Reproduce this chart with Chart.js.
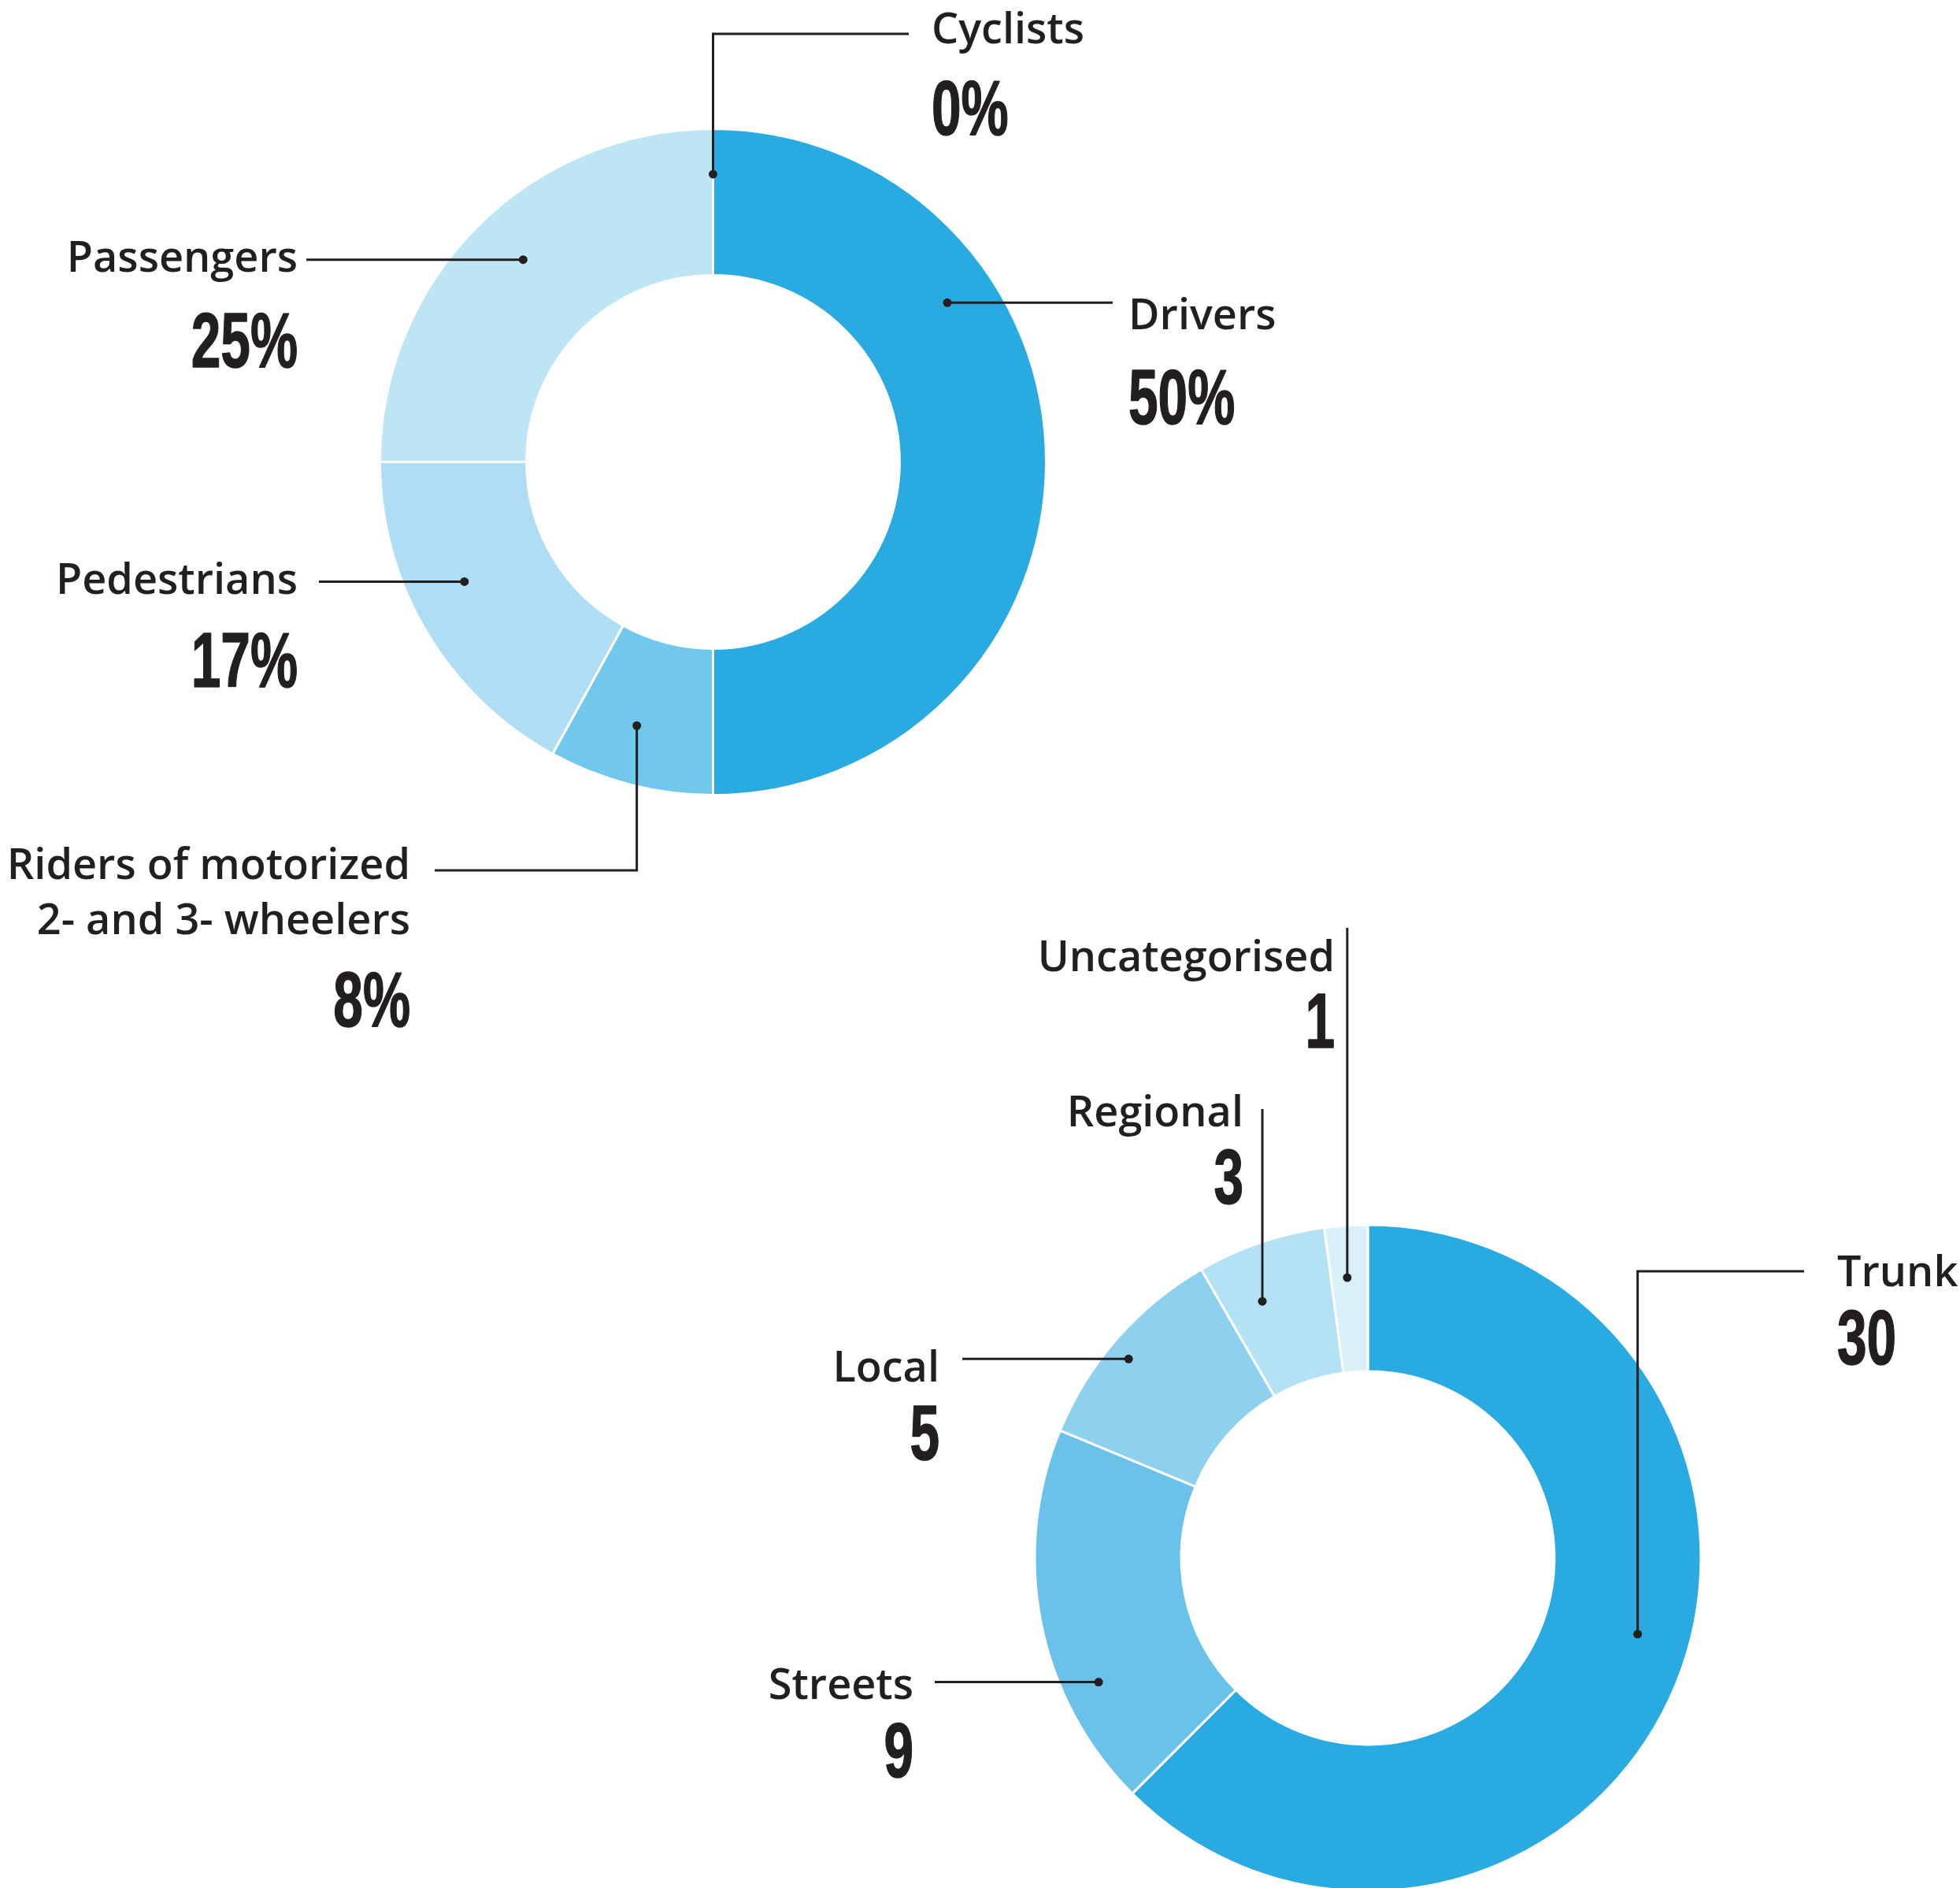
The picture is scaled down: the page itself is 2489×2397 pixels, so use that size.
<!DOCTYPE html>
<html>
<head>
<meta charset="utf-8">
<title>Road deaths</title>
<script src="https://cdn.jsdelivr.net/npm/chart.js@4/dist/chart.umd.min.js"></script>
<style>
  html, body { margin: 0; padding: 0; background: #fff; }
  body { width: 2489px; height: 2397px; position: relative; overflow: hidden; }
  canvas { position: absolute; left: 0; top: 0; }
</style>
</head>
<body>
<canvas id="usersChart" width="2489" height="2397"></canvas>
<canvas id="roadsChart" width="2489" height="2397"></canvas>
<script>
// Share of deaths by road user (%)
const userLabels = ['Drivers', ['Riders of motorized', '2- and 3- wheelers'], 'Pedestrians', 'Passengers', 'Cyclists'];
const userValues = [50, 8, 17, 25, 0];

// Deaths by road type
const roadLabels = ['Trunk', 'Streets', 'Local', 'Regional', 'Uncategorised'];
const roadValues = [30, 9, 5, 3, 1];

const userColors = ['#29abe2', '#72c7ec', '#afdef4', '#bde5f3', '#daf0f9'];
const roadColors = ['#29abe2', '#6ac2ea', '#8dd1ee', '#b5e1f4', '#daf0f9'];

const INK = '#231f20';
const LABEL_FONT = '600 54px "Open Sans", "Noto Sans", sans-serif';
const NUM_FONT = 'bold 98px "Liberation Sans", Arial, sans-serif';
const NUM_SQUEEZE = 0.69;
const LINE_GAP = 70;

// Callouts: dot sits at `at` (fraction along the slice) and `depth` (fraction across the ring),
// the leader then walks the path ('x' = go horizontally to, 'y' = go vertically to).
const userCallouts = [
  { at: 0.31, depth: 0.66, path: ['x', 1413], align: 'left', x: 1433, y: 418, numY: 538 },
  { at: 0.56, depth: 0.60, path: ['y', 1105, 'x', 552], align: 'right', x: 521, y: 1116, numY: 1303 },
  { at: 0.58, depth: 0.61, path: ['x', 405], align: 'right', x: 378, y: 754, numY: 872 },
  { at: 0.52, depth: 0.62, path: ['x', 389], align: 'right', x: 378, y: 345, numY: 466 },
  { at: 0.5, depth: 0.69, path: ['y', 43, 'x', 1154], align: 'left', x: 1183, y: 55, numY: 171 }
];

const roadCallouts = [
  { at: 0.47, depth: 0.64, path: ['y', 1614, 'x', 2291], align: 'left', x: 2333, y: 1633, numY: 1732 },
  { at: 0.30, depth: 0.75, path: ['x', 1187], align: 'right', x: 1160, y: 2157, numY: 2256 },
  { at: 0.46, depth: 0.85, path: ['x', 1222], align: 'right', x: 1193, y: 1754, numY: 1853 },
  { at: 0.34, depth: 0.62, path: ['y', 1408], align: 'right', x: 1579, y: 1430, numY: 1528 },
  { at: 0.44, depth: 0.645, path: ['y', 1178], align: 'right', x: 1695, y: 1233, numY: 1330 }
];

// draws leader lines, dots, names and values for each slice
const calloutPlugin = {
  id: 'callouts',
  afterDraw(chart, args, opts) {
    const ctx = chart.ctx;
    const meta = chart.getDatasetMeta(0);
    const values = chart.data.datasets[0].data;

    opts.items.forEach((c, i) => {
      const arc = meta.data[i];
      const ang = arc.startAngle + c.at * (arc.endAngle - arc.startAngle);
      const r = arc.innerRadius + c.depth * (arc.outerRadius - arc.innerRadius);
      const dx = arc.x + Math.cos(ang) * r;
      const dy = arc.y + Math.sin(ang) * r;

      ctx.save();
      ctx.strokeStyle = INK;
      ctx.fillStyle = INK;
      ctx.lineWidth = 3;
      ctx.beginPath();
      ctx.moveTo(dx, dy);
      let px = dx, py = dy;
      for (let k = 0; k < c.path.length; k += 2) {
        if (c.path[k] === 'x') px = c.path[k + 1];
        else py = c.path[k + 1];
        ctx.lineTo(px, py);
      }
      ctx.stroke();

      ctx.beginPath();
      ctx.arc(dx, dy, 5.5, 0, Math.PI * 2);
      ctx.fill();

      // name
      ctx.font = LABEL_FONT;
      ctx.textAlign = c.align;
      ctx.textBaseline = 'alphabetic';
      const name = chart.data.labels[i];
      const lines = Array.isArray(name) ? name : [name];
      lines.forEach((ln, j) => ctx.fillText(ln, c.x, c.y + j * LINE_GAP));

      // value, condensed
      const txt = opts.format(values[i]);
      ctx.translate(c.x, c.numY);
      ctx.scale(NUM_SQUEEZE, 1);
      ctx.font = NUM_FONT;
      ctx.lineWidth = 1.5;
      ctx.lineJoin = 'round';
      ctx.fillText(txt, 0, 0);
      ctx.strokeText(txt, 0, 0);
      ctx.restore();
    });
  }
};

// centre the chart area on (cx, cy) inside the full-page canvas
function paddingFor(cx, cy) {
  const half = 400;
  return { left: cx - half, right: 2489 - cx - half, top: cy - half, bottom: 2397 - cy - half };
}

function makeDonut(id, labels, values, colors, callouts, format, center) {
  return new Chart(document.getElementById(id), {
    type: 'doughnut',
    data: {
      labels: labels,
      datasets: [{
        data: values,
        backgroundColor: colors,
        borderColor: '#ffffff',
        borderWidth: 3
      }]
    },
    options: {
      responsive: false,
      animation: false,
      radius: 423,
      cutout: '56%',
      layout: { padding: paddingFor(center[0], center[1]) },
      plugins: {
        legend: { display: false },
        tooltip: { enabled: false },
        callouts: { items: callouts, format: format }
      }
    },
    plugins: [calloutPlugin]
  });
}

makeDonut('usersChart', userLabels, userValues, userColors, userCallouts, v => v + '%', [905.5, 586.5]);
makeDonut('roadsChart', roadLabels, roadValues, roadColors, roadCallouts, v => String(v), [1737, 1978]);
</script>
</body>
</html>
